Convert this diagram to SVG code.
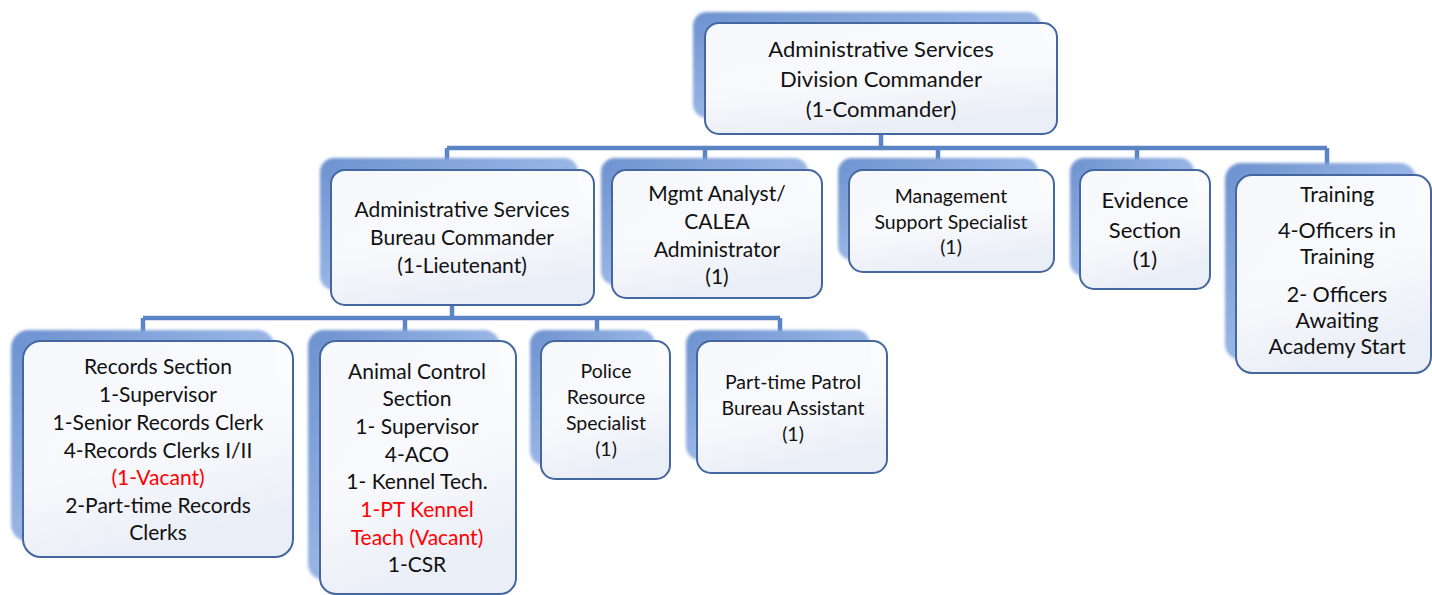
<svg xmlns="http://www.w3.org/2000/svg" width="1432" height="595" viewBox="0 0 1432 595">
<defs>
<linearGradient id="sg" x1="0" y1="0" x2="1" y2="1">
<stop offset="0" stop-color="#6c91cf"/>
<stop offset="0.5" stop-color="#97b4e4"/>
<stop offset="1" stop-color="#b9cdee"/>
</linearGradient>
<linearGradient id="fg" x1="0" y1="0" x2="0.3" y2="1">
<stop offset="0" stop-color="#ffffff" stop-opacity="0.93"/>
<stop offset="0.6" stop-color="#f8f9fc"/>
<stop offset="1" stop-color="#eaeef6"/>
</linearGradient>
<filter id="blur" x="-10%" y="-10%" width="120%" height="120%"><feGaussianBlur stdDeviation="1.6"/></filter>
</defs>
<style>
.sh{fill:url(#sg);filter:url(#blur)}
.fr{fill:url(#fg);stroke:#44679f;stroke-width:2}
text{font-family:Lato,"Liberation Sans",sans-serif;fill:#111;text-anchor:middle}
.red{fill:#ff0000}
.c{stroke:#5b84c4;stroke-width:4.5;fill:none}
</style>
<g id="connectors">
<path class="c" d="M881 134V148M447 148H1327M447 148V160M705 148V160M938 148V160M1137 148V160M1327 148V165"/>
<path class="c" d="M452 305V318M143 318H780M143 318V332M405 318V332M597 318V332M780 318V332"/>
</g>
<g id="division-commander">
<rect class="sh" x="693" y="12" width="348" height="106" rx="14"/>
<rect class="fr" x="705" y="23" width="352" height="111" rx="14"/>
<text font-size="22"><tspan x="881" y="57">Administrative Services</tspan><tspan x="881" y="87">Division Commander</tspan><tspan x="881" y="117">(1-Commander)</tspan></text>
</g>
<g id="bureau-commander">
<rect class="sh" x="320" y="158" width="258" height="132" rx="14"/>
<rect class="fr" x="331" y="170" width="263" height="135" rx="14"/>
<text font-size="21"><tspan x="462" y="217">Administrative Services</tspan><tspan x="462" y="245">Bureau Commander</tspan><tspan x="462" y="273">(1-Lieutenant)</tspan></text>
</g>
<g id="mgmt-analyst">
<rect class="sh" x="601" y="158" width="207" height="127" rx="14"/>
<rect class="fr" x="612" y="170" width="210" height="128" rx="14"/>
<text font-size="21"><tspan x="717" y="201">Mgmt Analyst/</tspan><tspan x="717" y="229">CALEA</tspan><tspan x="717" y="257">Administrator</tspan><tspan x="717" y="284">(1)</tspan></text>
</g>
<g id="management-support">
<rect class="sh" x="838" y="158" width="200" height="102" rx="14"/>
<rect class="fr" x="849" y="170" width="205" height="102" rx="14"/>
<text font-size="19.5"><tspan x="951" y="203">Management</tspan><tspan x="951" y="229">Support Specialist</tspan><tspan x="951" y="254">(1)</tspan></text>
</g>
<g id="evidence">
<rect class="sh" x="1070" y="158" width="124" height="118" rx="14"/>
<rect class="fr" x="1080" y="170" width="130" height="119" rx="14"/>
<text font-size="22"><tspan x="1145" y="208">Evidence</tspan><tspan x="1145" y="238">Section</tspan><tspan x="1145" y="267">(1)</tspan></text>
</g>
<g id="training">
<rect class="sh" x="1225" y="163" width="191" height="197" rx="16"/>
<rect class="fr" x="1236" y="175" width="195" height="198" rx="16"/>
<text font-size="21.5"><tspan x="1337" y="202">Training</tspan><tspan x="1337" y="238">4-Officers in</tspan><tspan x="1337" y="264">Training</tspan><tspan x="1337" y="302">2- Officers</tspan><tspan x="1337" y="328">Awaiting</tspan><tspan x="1337" y="354">Academy Start</tspan></text>
</g>
<g id="records-section">
<rect class="sh" x="11" y="330" width="264" height="212" rx="18"/>
<rect class="fr" x="23" y="341" width="270" height="216" rx="18"/>
<text font-size="21"><tspan x="158" y="374">Records Section</tspan><tspan x="158" y="402">1-Supervisor</tspan><tspan x="158" y="430">1-Senior Records Clerk</tspan><tspan x="158" y="458">4-Records Clerks I/II</tspan><tspan x="158" y="485" class="red">(1-Vacant)</tspan><tspan x="158" y="513">2-Part-time Records</tspan><tspan x="158" y="540">Clerks</tspan></text>
</g>
<g id="animal-control">
<rect class="sh" x="308" y="330" width="192" height="250" rx="16"/>
<rect class="fr" x="320" y="341" width="196" height="253" rx="16"/>
<text font-size="21"><tspan x="417" y="379">Animal Control</tspan><tspan x="417" y="406">Section</tspan><tspan x="417" y="434">1- Supervisor</tspan><tspan x="417" y="462">4-ACO</tspan><tspan x="417" y="489">1- Kennel Tech.</tspan><tspan x="417" y="517" class="red">1-PT Kennel</tspan><tspan x="417" y="545" class="red">Teach (Vacant)</tspan><tspan x="417" y="572">1-CSR</tspan></text>
</g>
<g id="police-resource">
<rect class="sh" x="530" y="330" width="125" height="135" rx="14"/>
<rect class="fr" x="541" y="341" width="129" height="138" rx="14"/>
<text font-size="19.5"><tspan x="606" y="378">Police</tspan><tspan x="606" y="404">Resource</tspan><tspan x="606" y="430">Specialist</tspan><tspan x="606" y="456">(1)</tspan></text>
</g>
<g id="part-time-patrol">
<rect class="sh" x="686" y="330" width="184" height="130" rx="14"/>
<rect class="fr" x="697" y="341" width="190" height="132" rx="14"/>
<text font-size="19.5"><tspan x="793" y="389">Part-time Patrol</tspan><tspan x="793" y="415">Bureau Assistant</tspan><tspan x="793" y="441">(1)</tspan></text>
</g>
</svg>
